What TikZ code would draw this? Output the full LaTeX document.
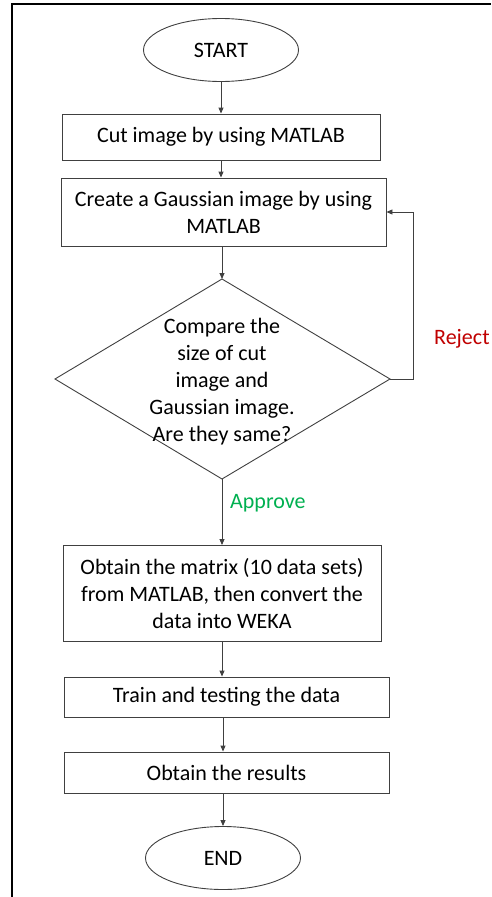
\documentclass[tikz,border=0pt]{standalone}
\usepackage{fontspec}
\setmainfont{Carlito}
\usetikzlibrary{shapes.geometric,arrows.meta}
\definecolor{rejred}{RGB}{192,0,0}
\definecolor{appgreen}{RGB}{0,176,80}
\begin{document}
\begin{tikzpicture}[x=1pt,y=-1pt,
  every node/.style={font=\fontsize{22}{27}\selectfont},
  ln/.style={draw=black!75,line width=0.9pt},
  arr/.style={ln,-{Triangle[length=6pt,width=5pt]}},
  procbox/.style={ln,rectangle,inner sep=0pt,align=center},
  term/.style={ln,ellipse,inner sep=0pt,minimum width=155pt,minimum height=63pt}]
\useasboundingbox (0,0) rectangle (491,897);
% frame
\draw[line width=2pt] (12,897) -- (12,4) -- (491,4);
% nodes
\node[term] (start) at (221,50) {START};
\node[procbox,minimum width=318pt,minimum height=46pt] (cut) at (221,137) {Cut image by using MATLAB};
\node[procbox,minimum width=325pt,minimum height=68pt] (gauss) at (223.5,212) {Create a Gaussian image by using\\MATLAB};
\coordinate (dtop) at (222,279);
\coordinate (dright) at (390,379);
\coordinate (dbot) at (222,479);
\coordinate (dleft) at (55,379);
\draw[ln] (dtop) -- (dright) -- (dbot) -- (dleft) -- cycle;
\node[align=center,inner sep=0pt] (cmp) at (222,382) {Compare the\\size of cut\\image and\\Gaussian image.\\Are they same?};
\node[procbox,minimum width=318pt,minimum height=96pt] (mat) at (222,593.5) {Obtain the matrix (10 data sets)\\from MATLAB, then convert the\\data into WEKA};
\node[procbox,minimum width=325pt,minimum height=40pt] (train) at (226.5,697) {Train and testing the data};
\node[procbox,minimum width=325pt,minimum height=41pt] (res) at (226.5,772.5) {Obtain the results};
\node[term] (end) at (223,858) {END};
% labels
\node[text=rejred,anchor=west,inner sep=0pt] (rej) at (434,339) {Reject};
\node[text=appgreen,anchor=west,inner sep=0pt] (app) at (230,503) {Approve};
% connectors
\draw[arr] (start) -- (cut);
\draw[arr] (cut.south -| gauss.north) ++(-2.5,0) coordinate (c1) -- (c1 |- gauss.north);
\draw[arr] (gauss.south -| dtop) -- (dtop);
\coordinate (rt) at (413,379);
\draw[arr] (dright) -- (rt) -- (rt |- 0,212) -- (gauss.east);
\draw[arr] (dbot) -- (dbot |- mat.north);
\draw[arr] (mat.south -| 222,0) -- (222,0 |- train.north);
\draw[arr] (train.south -| 223,0) -- (223,0 |- res.north);
\draw[arr] (res.south -| 223,0) -- (end);
\end{tikzpicture}
\end{document}
